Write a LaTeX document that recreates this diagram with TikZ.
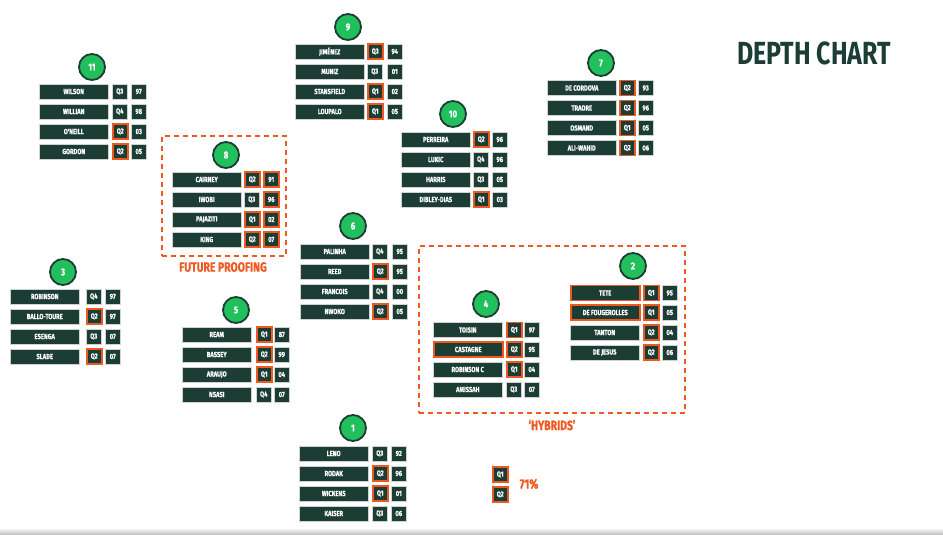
\documentclass[tikz,border=0pt]{standalone}
\usepackage{fontspec}
\newfontfamily\cond[FakeStretch=0.78,FakeBold=0.6]{Fira Sans}
\newfontfamily\condhead[FakeStretch=0.78]{Fira Sans}
\definecolor{pine}{RGB}{27,61,52}
\definecolor{leaf}{RGB}{34,192,92}
\definecolor{flame}{RGB}{240,88,34}
\newcount\rowid
\tikzset{
  cell/.style={fill=pine, draw=gray!35, line width=0.5pt, inner sep=0pt,
    minimum height=15pt, anchor=west, text=white,
    font=\cond\bfseries\fontsize{7.4}{8}\selectfont},
  namecell/.style={cell, minimum width=69pt},
  smallcell/.style={cell, minimum width=15pt},
  hot/.style={draw=flame, line width=1.5pt},
  numdot/.style={circle, fill=leaf, draw=pine, line width=1.8pt,
    minimum size=26pt, inner sep=0pt, text=white,
    font=\cond\bfseries\fontsize{10}{11}\selectfont},
  zone/.style={draw=flame, line width=2pt, dash pattern=on 5pt off 4pt,
    inner sep=0pt},
  tag/.style={text=flame, font=\cond\bfseries\fontsize{13.4}{14}\selectfont},
  headline/.style={text=pine, font=\condhead\bfseries\fontsize{32}{34}\selectfont}
}
% column positions of a block: name, quality, year
\def\setcols#1#2#3{\def\xN{#1}\def\xQ{#2}\def\xY{#3}}
% one row: y, name, name style, quality, quality style, year, year style
\newcommand\prow[7]{\global\advance\rowid by 1
  \node[namecell,#3] (r\the\rowid n) at (\xN,#1) {#2};
  \node[smallcell,#5] (r\the\rowid q) at (\xQ,#1) {#4};
  \node[smallcell,#7] (r\the\rowid y) at (\xY,#1) {#6};}
\begin{document}
\begin{tikzpicture}[x=1pt,y=-1pt]
\fill[white] (0,0) rectangle (943,535);
\useasboundingbox (0,0) rectangle (943,535);
\shade[top color=white, bottom color=gray!55] (0,528) rectangle (943,535);

\node[headline] (title) at (814,53) {DEPTH CHART};

% dashed zones
\node[zone, minimum width=124pt, minimum height=120pt] (zone8) at (224,196) {};
\node[tag] (future) at (223,267) {FUTURE PROOFING};
\node[zone, minimum width=266pt, minimum height=167pt] (zone24) at (552,329.5) {};
\node[tag] (hybrids) at (552,425) {‘HYBRIDS’};

% 11
\node[numdot] (c11) at (92,67) {11};
\setcols{39}{112}{131}
\prow{91.5}{WILSON}{}{Q3}{}{97}{}
\prow{111.5}{WILLIAN}{}{Q4}{}{98}{}
\prow{131.5}{O'NEILL}{}{Q2}{hot}{03}{}
\prow{151.5}{GORDON}{}{Q2}{hot}{05}{}

% 8
\node[numdot] (c8) at (226,155) {8};
\setcols{172}{244}{263}
\prow{179.5}{CAIRNEY}{}{Q2}{hot}{91}{hot}
\prow{199.5}{IWOBI}{}{Q3}{}{96}{hot}
\prow{219.5}{PAJAZITI}{}{Q1}{hot}{02}{hot}
\prow{239.5}{KING}{}{Q2}{hot}{07}{hot}

% 9
\node[numdot] (c9) at (348,27) {9};
\setcols{295}{367}{387}
\prow{51.5}{JIMÉNEZ}{}{Q3}{hot}{94}{}
\prow{71.5}{MUNIZ}{}{Q3}{}{01}{}
\prow{91.5}{STANSFIELD}{}{Q1}{hot}{02}{}
\prow{111.5}{LOUPALO}{}{Q1}{hot}{05}{}

% 10
\node[numdot] (c10) at (453,114) {10};
\setcols{401}{473}{492}
\prow{139.5}{PERREIRA}{}{Q2}{hot}{96}{}
\prow{159.5}{LUKIC}{}{Q4}{}{96}{}
\prow{179.5}{HARRIS}{}{Q3}{}{05}{}
\prow{199.5}{DIBLEY-DIAS}{}{Q1}{hot}{03}{}

% 7
\node[numdot] (c7) at (601,63) {7};
\setcols{547}{619}{638}
\prow{88}{DE CORDOVA}{}{Q2}{hot}{93}{}
\prow{108}{TRAORE}{}{Q2}{hot}{96}{}
\prow{128}{OSMAND}{}{Q1}{hot}{05}{}
\prow{148}{ALI-WAHID}{}{Q2}{hot}{06}{}

% 3
\node[numdot] (c3) at (63,272) {3};
\setcols{10}{86}{105}
\prow{296.5}{ROBINSON}{}{Q4}{}{97}{}
\prow{316.5}{BALLO-TOURE}{}{Q2}{hot}{97}{}
\prow{336.5}{ESENGA}{}{Q3}{}{07}{}
\prow{356.5}{SLADE}{}{Q2}{hot}{07}{}

% 5
\node[numdot] (c5) at (236,310) {5};
\setcols{182}{256}{274}
\prow{334.5}{REAM}{}{Q1}{hot}{87}{}
\prow{354.5}{BASSEY}{}{Q2}{hot}{99}{}
\prow{374.5}{ARAUJO}{}{Q1}{hot}{04}{}
\prow{394.5}{NSASI}{}{Q4}{}{07}{}

% 6
\node[numdot] (c6) at (353,226) {6};
\setcols{300}{372}{392}
\prow{251.5}{PALINHA}{}{Q4}{}{95}{}
\prow{271.5}{REED}{}{Q2}{hot}{95}{}
\prow{291.5}{FRANCOIS}{}{Q4}{}{00}{}
\prow{311.5}{NWOKO}{}{Q2}{hot}{05}{}

% 4
\node[numdot] (c4) at (486,304) {4};
\setcols{433}{506}{524}
\prow{330}{TOISIN}{}{Q1}{hot}{97}{}
\prow{349.5}{CASTAGNE}{hot}{Q2}{hot}{95}{}
\prow{369.5}{ROBINSON C}{}{Q1}{hot}{04}{}
\prow{389.5}{AMISSAH}{}{Q3}{}{07}{}

% 2
\node[numdot] (c2) at (633,266) {2};
\setcols{570}{643}{662}
\prow{293}{TETE}{hot}{Q1}{hot}{95}{}
\prow{312.5}{DE FOUGEROLLES}{hot}{Q1}{hot}{05}{}
\prow{332.5}{TANTON}{}{Q2}{hot}{04}{}
\prow{352.5}{DE JESUS}{}{Q2}{hot}{06}{}

% 1
\node[numdot] (c1) at (353,428) {1};
\setcols{299}{372}{391}
\prow{453.5}{LENO}{}{Q3}{}{92}{}
\prow{473.5}{RODAK}{}{Q2}{hot}{96}{}
\prow{493.5}{WICKENS}{}{Q1}{hot}{01}{}
\prow{513.5}{KAISER}{}{Q3}{}{06}{}

% key
\node[smallcell,hot] (keyq1) at (492,474.5) {Q1};
\node[smallcell,hot] (keyq2) at (492,494.5) {Q2};
\node[tag] (share) at (529,484) {71\%};
\end{tikzpicture}
\end{document}
